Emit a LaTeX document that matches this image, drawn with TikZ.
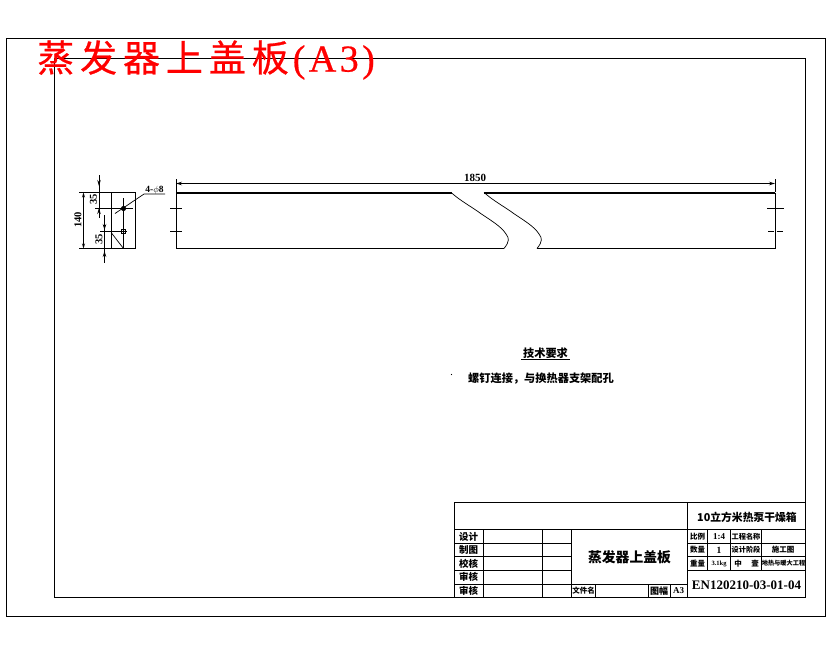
\documentclass[tikz,border=0pt]{standalone}
\usepackage{fontspec}
\usetikzlibrary{arrows.meta}
\setmainfont{Liberation Serif}
\newfontfamily\cjk{Noto Sans CJK SC}
\newfontfamily\cjktitle[LetterSpace=16,FakeBold=0.6]{Noto Sans CJK SC}
\newfontfamily\lat[LetterSpace=9,FakeBold=0.6]{Liberation Serif}
\tikzset{
  line/.style={draw=black,line width=0.8pt},
  thin line/.style={draw=black,line width=0.7pt},
  thick line/.style={draw=black,line width=2pt},
  dimtip/.style={{Stealth[length=6pt,width=3.5pt]}-{Stealth[length=6pt,width=3.5pt]}},
  dimtext/.style={font=\fontsize{10.5}{10.5}\selectfont\bfseries,inner sep=0pt},
  cell/.style={font=\fontsize{9.5}{9.5}\selectfont\cjk\bfseries,inner sep=0pt},
  right cell/.style={font=\fontsize{7.5}{8}\selectfont\cjk\bfseries,inner sep=0pt},
  tiny cell/.style={font=\fontsize{7.2}{7.5}\selectfont\cjk\bfseries,inner sep=0pt},
  note text/.style={font=\fontsize{11.2}{11.2}\selectfont\cjk\bfseries,inner sep=0pt},
}
\begin{document}
\begin{tikzpicture}[x=1pt,y=-1pt]
\useasboundingbox (0,0) rectangle (830,654);
% frames
\draw[line] (6.5,38.5) rectangle (825,616);
\draw[line] (54.5,58.5) rectangle (805,597.5);
% title
\node[anchor=west,text=red,inner sep=0pt,font=\fontsize{37}{37}\selectfont] (title) at (37,60)
  {{\cjktitle 蒸发器上盖板}\hspace{4pt}{\fontsize{38}{38}\selectfont\lat (A3)}};
% main plate
\draw[line] (176,248.5) -- (176,192.5);
\draw[line] (775,192.5) -- (775,248.5);
\draw[thick line] (176,192.5) -- (452,192.5);
\draw[thick line] (484,192.5) -- (775,192.5);
\draw[line] (176,248.5) -- (504,248.5);
\draw[line] (537,248.5) -- (775,248.5);
\draw[thin line] (451,192.5) .. controls (462,202) and (472,207) .. (480,213)
  .. controls (490,220) and (501,226) .. (506,234)
  .. controls (509,238) and (510,241) .. (504,248.5);
\draw[thin line] (484,192.5) .. controls (495,202) and (505,207) .. (513,213)
  .. controls (523,220) and (534,226) .. (539,234)
  .. controls (542,238) and (543,241) .. (537,248.5);
% overall dimension
\draw[line] (176,179) -- (176,192);
\draw[line] (775,179) -- (775,192);
\draw[line,dimtip] (176,183.5) -- (775,183.5);
\node[dimtext,font=\fontsize{11}{11}\selectfont\bfseries] (len) at (475,177.5) {1850};
% centre ticks
\draw[line] (170,208) -- (182,208);
\draw[line] (170,231) -- (182,231);
\draw[line] (767,208) -- (784,208);
\draw[line,dash pattern=on 6pt off 3pt] (768,231) -- (784,231);
% side view
\draw[line] (79,192.5) -- (135.5,192.5) -- (135.5,248.5) -- (79,248.5);
\draw[line] (111.5,192.5) -- (111.5,248.5);
\draw[line,{Stealth[length=5pt,width=3pt]}-{Stealth[length=5pt,width=3pt]}] (83.5,192.5) -- (83.5,248.5);
\draw[line] (95,208.5) -- (133,208.5);
\draw[line] (100,231.5) -- (127,231.5);
\draw[line] (123.5,198) -- (123.5,248.5);
\draw[line] (99,175) -- (99,218);
\draw[line,{Stealth[length=6pt,width=3.5pt,reversed]}-{Stealth[length=6pt,width=3.5pt,reversed]}] (99,180) -- (99,214);
\draw[line] (104.5,215) -- (104.5,263);
\draw[line,{Stealth[length=6pt,width=3.5pt,reversed]}-{Stealth[length=6pt,width=3.5pt,reversed]}] (104.5,224) -- (104.5,257);
\fill (123.5,208.5) circle (2.6pt);
\draw[line] (121.5,229.5) rectangle (125.5,233.5);
\draw[thin line] (111.5,233) -- (123.5,248.5);
\draw[thin line] (115,213.5) -- (144,194) -- (165,194);
\node[dimtext,font=\fontsize{9.5}{9.5}\selectfont\bfseries] (hole) at (154.5,190) {4-$\phi$8};
\node[dimtext,rotate=90] (d140) at (78,220) {140};
\node[dimtext,rotate=90] (d35a) at (93.5,199) {35};
\node[dimtext,rotate=90] (d35b) at (99,239) {35};
% technical notes
\node[note text] (tech) at (545.5,353) {技术要求};
\draw[line,line width=1.1pt] (521,359.5) -- (570,359.5);
\node[note text,anchor=west] (note) at (468,379) {螺钉连接，与换热器支架配孔};
\fill (451.5,374.5) circle (0.6pt);
% title block
\draw[line] (454.5,502.5) rectangle (805,597.5);
\draw[line] (454.5,529.5) -- (805,529.5);
\draw[line] (687.5,502.5) -- (687.5,597.5);
\foreach \yy in {543.5,556.5,570.5,584.5} \draw[line] (454.5,\yy) -- (571.5,\yy);
\draw[line] (571.5,584.5) -- (687.5,584.5);
\foreach \xx in {483.5,542.5,571.5} \draw[line] (\xx,529.5) -- (\xx,597.5);
\draw[line] (595.5,584.5) -- (595.5,597.5);
\draw[line] (648.5,584.5) -- (648.5,597.5);
\draw[line] (670,584.5) -- (670,597.5);
\foreach \yy in {543.5,556.5,570.5} \draw[line] (687.5,\yy) -- (805,\yy);
\foreach \xx in {707.5,730.5,761.5} \draw[line] (\xx,529.5) -- (\xx,570.5);
\node[cell] (c1) at (468.5,536.5) {设计};
\node[cell] (c2) at (468.5,550) {制图};
\node[cell] (c3) at (468.5,563.5) {校核};
\node[cell] (c4) at (468.5,577) {审核};
\node[cell] (c5) at (468.5,591) {审核};
\node[cell,font=\fontsize{13.8}{14}\selectfont\cjk\bfseries] (name) at (629.5,557) {蒸发器上盖板};
\node[tiny cell,font=\fontsize{7.5}{8}\selectfont\cjk\bfseries] (file) at (583.5,591) {文件名};
\node[cell,font=\fontsize{9}{9}\selectfont\cjk\bfseries] (size) at (659,591) {图幅};
\node[dimtext,font=\fontsize{9}{9}\selectfont\bfseries] (a3) at (678.5,591) {A3};
\node[cell,font=\fontsize{10.8}{11}\selectfont\cjk\bfseries] (proj) at (747,517) {10立方米热泵干燥箱};
\node[right cell] (r1a) at (697.5,536.5) {比例};
\node[dimtext,font=\fontsize{9}{9}\selectfont\bfseries] (r1b) at (719,536.5) {1:4};
\node[tiny cell] (r1c) at (746,536.5) {工程名称};
\node[right cell] (r2a) at (697.5,550) {数量};
\node[dimtext,font=\fontsize{9.5}{9.5}\selectfont\bfseries] (r2b) at (719,550) {1};
\node[tiny cell] (r2c) at (746,550) {设计阶段};
\node[right cell] (r2d) at (783,550) {施工图};
\node[right cell] (r3a) at (697.5,563.5) {重量};
\node[dimtext,font=\fontsize{6.5}{7}\selectfont\bfseries] (r3b) at (719,563.5) {3.1kg};
\node[right cell] (r3c) at (738,563.5) {中};
\node[right cell] (r3d) at (755,563.5) {壹};
\node[tiny cell,font=\fontsize{6.2}{6.5}\selectfont\cjk\bfseries] (r3e) at (783.5,563.5) {地热与暖大工程};
\node[inner sep=0pt,font=\fontsize{13}{13}\selectfont\bfseries] (code) at (746.5,585) {EN120210-03-01-04};
\end{tikzpicture}
\end{document}
